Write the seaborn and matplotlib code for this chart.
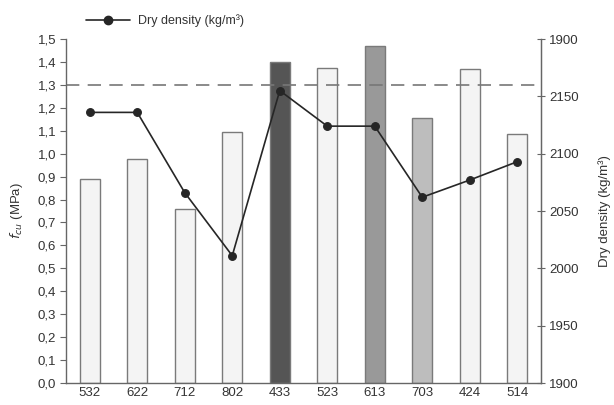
import matplotlib
matplotlib.use("Agg")
import matplotlib.pyplot as plt
import seaborn as sns
import pandas as pd
from matplotlib.lines import Line2D

categories = ["532", "622", "712", "802", "433", "523", "613", "703", "424", "514"]
fcu = [0.89, 0.975, 0.76, 1.095, 1.40, 1.375, 1.47, 1.155, 1.368, 1.085]
density = [2136, 2136, 2066, 2011, 2155, 2124, 2124, 2062, 2077, 2093]
bar_colors = ["#f4f4f4", "#f4f4f4", "#f4f4f4", "#f4f4f4", "#555555",
              "#f4f4f4", "#999999", "#bdbdbd", "#f4f4f4", "#f4f4f4"]
left_ticks = [0.0, 0.1, 0.2, 0.3, 0.4, 0.5, 0.6, 0.7, 0.8, 0.9, 1.0, 1.1, 1.2, 1.3, 1.4, 1.5]
right_ticks = [1900, 1950, 2000, 2050, 2100, 2150, 2200]
right_labels = ["1900", "1950", "2000", "2050", "2100", "2150", "1900"]
threshold = 1.3

sns.set_style("white")
plt.rcParams["font.family"] = ["Liberation Sans", "DejaVu Sans"]
txt = "#333333"
spine_c = "#666666"

df = pd.DataFrame({"cat": categories, "fcu": fcu, "density": density})

fig = plt.figure(figsize=(6.14, 4.05), dpi=100)
ax = fig.add_axes([66/614, 1-383/405, (541-66)/614, (383-39)/405])

sns.barplot(data=df, x="cat", y="fcu", hue="cat", palette=bar_colors, order=categories,
            hue_order=categories, width=0.43, edgecolor="#7a7a7a", linewidth=1.0,
            legend=False, ax=ax, saturation=1)
ax.axhline(threshold, color="#777777", linestyle=(0, (8, 5)), linewidth=1.2, zorder=1)
ax.set_ylim(0, 1.5)
ax.set_xlim(-0.5, len(categories) - 0.5)
ax.set_yticks(left_ticks)
ax.set_yticklabels([f"{v:.1f}".replace(".", ",") for v in left_ticks])
ax.set_xlabel("")
ax.set_ylabel(r"$f_{cu}$ (MPa)", fontsize=9.5, color=txt, labelpad=9)
ax.tick_params(axis="y", direction="out", length=4, width=0.8, colors=spine_c,
               labelcolor=txt, labelsize=9.5, pad=3)
ax.tick_params(axis="x", length=0, labelcolor=txt, labelsize=9.5, pad=3)
for s in ["left", "bottom", "right"]:
    ax.spines[s].set_color(spine_c)
    ax.spines[s].set_linewidth(1.0)
ax.spines["top"].set_visible(False)

ax2 = ax.twinx()
sns.pointplot(data=df, x="cat", y="density", order=categories, color="#262626",
              markers="o", markersize=5.5, linewidth=1.2, ax=ax2)
ax2.set_ylim(1900, 2200)
ax2.set_xlim(-0.5, len(categories) - 0.5)
ax2.set_yticks(right_ticks)
ax2.set_yticklabels(right_labels)
ax2.set_ylabel("Dry density (kg/m³)", fontsize=9.5, color=txt, labelpad=14)
ax2.tick_params(axis="y", direction="inout", length=6, width=0.8, colors=spine_c,
                labelcolor=txt, labelsize=9.5, pad=3)
for s in ["top", "left", "bottom"]:
    ax2.spines[s].set_visible(False)
ax2.spines["right"].set_color(spine_c)

handle = Line2D([0], [0], color="#262626", lw=1.2, marker="o", markersize=6)
fig.legend([handle], ["Dry density (kg/m³)"], loc="center left",
           bbox_to_anchor=(75/614, 1-21/405), frameon=False, fontsize=9,
           handlelength=3.5, handletextpad=0.6, labelcolor=txt)

fig.savefig("out.png", dpi=100)
